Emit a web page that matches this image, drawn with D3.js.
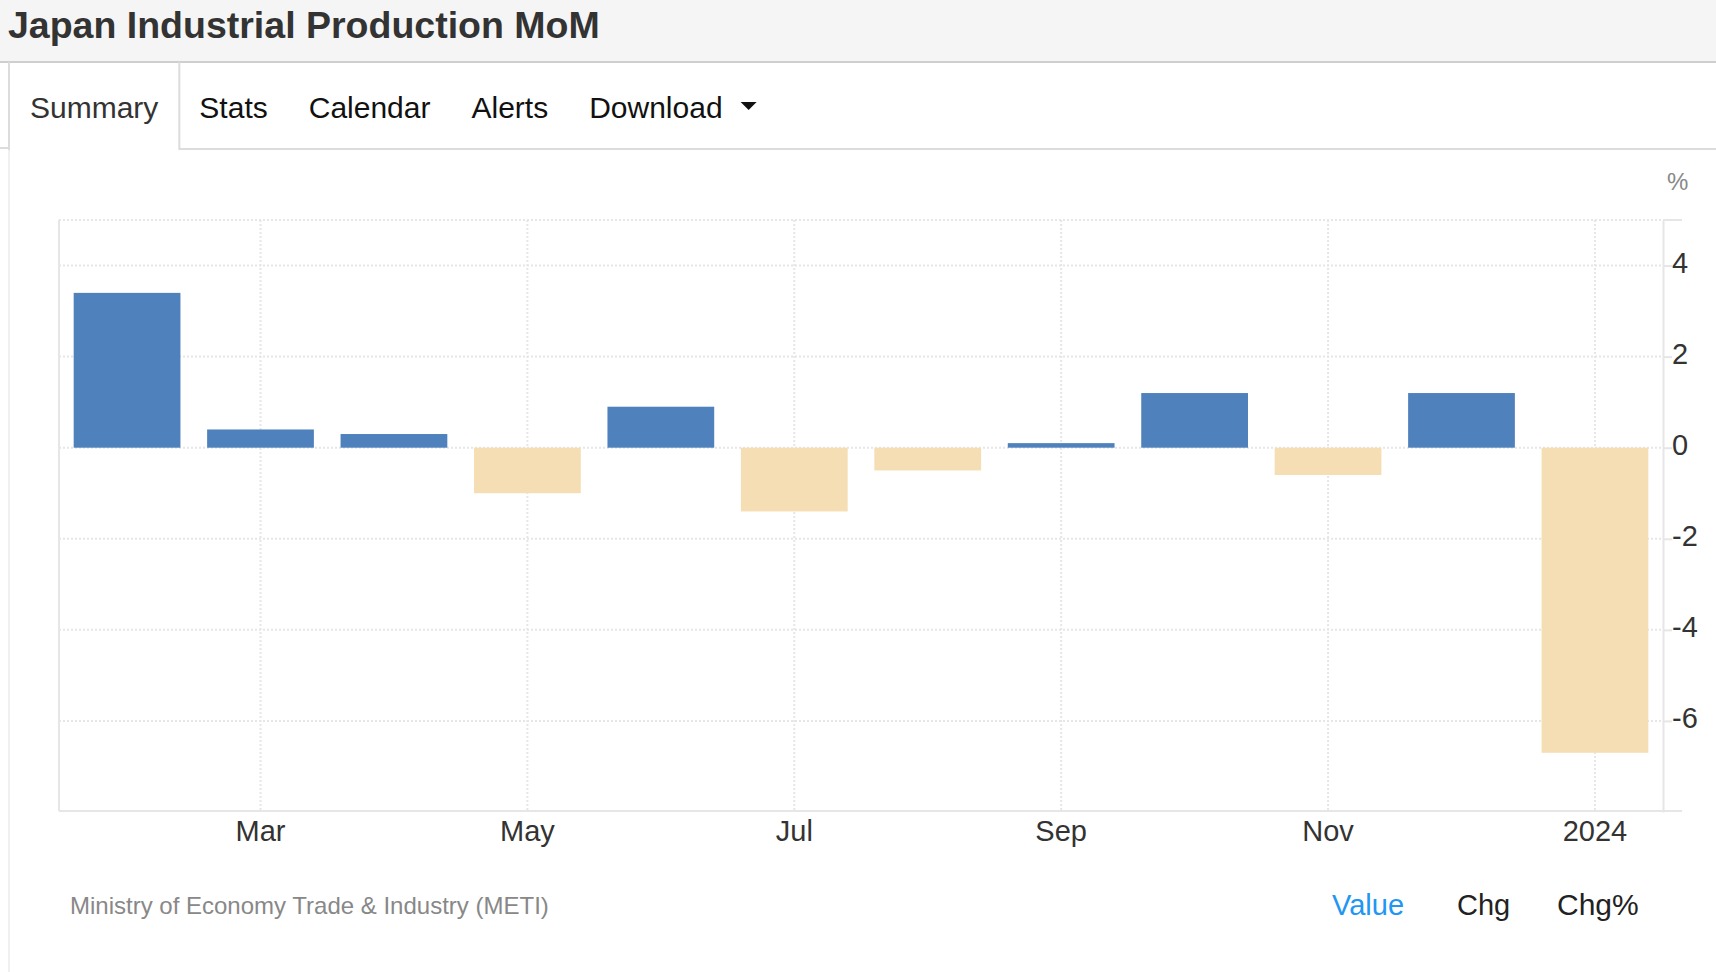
<!DOCTYPE html>
<html>
<head>
<meta charset="utf-8">
<script src="https://cdn.jsdelivr.net/npm/d3@7"></script>
<style>
  body { margin: 0; background: #fff; font-family: "Liberation Sans", Arial, Helvetica, sans-serif; }
  svg { display: block; }
</style>
</head>
<body>
<svg id="chart" width="1716" height="972"></svg>
<script>
// data
const categories = ["Feb 2023", "Mar 2023", "Apr 2023", "May 2023", "Jun 2023", "Jul 2023",
  "Aug 2023", "Sep 2023", "Oct 2023", "Nov 2023", "Dec 2023", "Jan 2024"];
const values = [3.4, 0.4, 0.3, -1.0, 0.9, -1.4, -0.5, 0.1, 1.2, -0.6, 1.2, -6.7];
const tickCategories = ["Mar 2023", "May 2023", "Jul 2023", "Sep 2023", "Nov 2023", "Jan 2024"];
const tickLabels = ["Mar", "May", "Jul", "Sep", "Nov", "2024"];
const yTicks = [-6, -4, -2, 0, 2, 4];
const tabs = ["Summary", "Stats", "Calendar", "Alerts", "Download"];
const views = ["Value", "Chg", "Chg%"];

const W = 1716, H = 972;
const plot = { left: 59, right: 1663, top: 220, bottom: 811 };
const gridColor = "#e6e6e6";

const svg = d3.select("#chart");

// header band
svg.append("rect").attr("x", 0).attr("y", 0).attr("width", W).attr("height", 62).attr("fill", "#f5f5f5");
svg.append("line").attr("x1", 0).attr("x2", W).attr("y1", 62).attr("y2", 62)
  .attr("stroke", "#cfcfcf").attr("stroke-width", 2);
svg.append("text").attr("x", 8).attr("y", 38)
  .attr("font-size", 37.5).attr("font-weight", "bold").attr("fill", "#333")
  .text("Japan Industrial Production MoM");

// panel left border
svg.append("line").attr("x1", 9).attr("x2", 9).attr("y1", 150).attr("y2", H)
  .attr("stroke", "#f0f0f0").attr("stroke-width", 2);

// tabs
const tabG = svg.append("g");
let tx = 9;
let firstEnd = 0;
tabs.forEach((t, i) => {
  const txt = tabG.append("text").attr("x", tx + 21).attr("y", 118)
    .attr("font-size", 30).attr("fill", i === 0 ? "#333" : "#111").text(t);
  const w = txt.node().getComputedTextLength();
  if (t === "Download") {
    const ax = tx + 21 + w + 18;
    tabG.append("path").attr("d", `M${ax},102 L${ax + 16},102 L${ax + 8},110 Z`).attr("fill", "#111");
  }
  if (i === 0) firstEnd = tx + 21 + w + 21;
  tx = tx + 21 + w + 20;
});
tabG.append("line").attr("x1", 9).attr("x2", 9).attr("y1", 62).attr("y2", 150)
  .attr("stroke", "#dcdcdc").attr("stroke-width", 2);
tabG.append("line").attr("x1", firstEnd).attr("x2", firstEnd).attr("y1", 62).attr("y2", 150)
  .attr("stroke", "#dcdcdc").attr("stroke-width", 2);
tabG.append("line").attr("x1", firstEnd).attr("x2", W).attr("y1", 149).attr("y2", 149)
  .attr("stroke", "#dcdcdc").attr("stroke-width", 2);
tabG.append("line").attr("x1", 0).attr("x2", 9).attr("y1", 148).attr("y2", 148)
  .attr("stroke", "#dcdcdc").attr("stroke-width", 2);

// scales
const x = d3.scaleBand().domain(categories).range([plot.left, plot.right])
  .paddingInner(0.2).paddingOuter(0.11);
const y = d3.scaleLinear().domain([-8, 5]).range([plot.bottom + 1, plot.top]);

// grid
const grid = svg.append("g");
grid.selectAll(".hgrid").data(yTicks.concat([5])).join("line")
  .attr("x1", plot.left).attr("x2", plot.right)
  .attr("y1", d => y(d)).attr("y2", d => y(d))
  .attr("stroke", gridColor).attr("stroke-width", 2).attr("stroke-dasharray", "2,2");
grid.selectAll(".vgrid").data(tickCategories).join("line")
  .attr("x1", d => x(d) + x.bandwidth() / 2).attr("x2", d => x(d) + x.bandwidth() / 2)
  .attr("y1", plot.top).attr("y2", plot.bottom)
  .attr("stroke", gridColor).attr("stroke-width", 2).attr("stroke-dasharray", "2,2");

// left border of plot
grid.append("line").attr("x1", plot.left).attr("x2", plot.left).attr("y1", plot.top).attr("y2", plot.bottom)
  .attr("stroke", gridColor).attr("stroke-width", 2);
// top tick stub
grid.append("line").attr("x1", plot.right).attr("x2", plot.right + 19).attr("y1", y(5)).attr("y2", y(5))
  .attr("stroke", gridColor).attr("stroke-width", 2);

// bars
svg.append("g").selectAll("rect").data(values).join("rect")
  .attr("x", (d, i) => x(categories[i]))
  .attr("width", x.bandwidth())
  .attr("y", d => y(Math.max(0, d)))
  .attr("height", d => Math.abs(y(d) - y(0)))
  .attr("fill", d => d >= 0 ? "#4f81bd" : "#f5deb3");

// y axis (right)
const yAxis = svg.append("g").attr("transform", `translate(${plot.right},0)`)
  .call(d3.axisRight(y).tickValues(yTicks).tickFormat(d => String(d))
    .tickSize(9).tickSizeOuter(0).tickPadding(0));
yAxis.select(".domain").attr("stroke", gridColor).attr("stroke-width", 2);
yAxis.selectAll(".tick line").attr("stroke", gridColor).attr("stroke-width", 2);
yAxis.selectAll(".tick text").attr("font-size", 29).attr("fill", "#333")
  .attr("font-family", "Liberation Sans, Arial, sans-serif").attr("dy", "0.24em");

// x axis (bottom)
const xAxis = svg.append("g").attr("transform", `translate(0,${plot.bottom})`)
  .call(d3.axisBottom(x).tickValues(tickCategories)
    .tickFormat(c => tickLabels[tickCategories.indexOf(c)]).tickSize(0).tickPadding(9));
xAxis.select(".domain").remove();
xAxis.selectAll(".tick text").attr("font-size", 29).attr("fill", "#333")
  .attr("font-family", "Liberation Sans, Arial, sans-serif");
svg.append("line").attr("x1", plot.left).attr("x2", plot.right + 19)
  .attr("y1", plot.bottom).attr("y2", plot.bottom)
  .attr("stroke", gridColor).attr("stroke-width", 2);

// unit
svg.append("text").attr("x", 1667).attr("y", 190).attr("font-size", 24).attr("fill", "#888").text("%");

// footer
svg.append("text").attr("x", 70).attr("y", 914).attr("font-size", 24).attr("fill", "#888")
  .text("Ministry of Economy Trade & Industry (METI)");
const viewX = [1332, 1457, 1557];
svg.append("g").selectAll("text").data(views).join("text")
  .attr("x", (d, i) => viewX[i]).attr("y", 915)
  .attr("font-size", (d, i) => i === 2 ? 30 : 29)
  .attr("fill", (d, i) => i === 0 ? "#2196f3" : "#222")
  .text(d => d);
</script>
</body>
</html>
